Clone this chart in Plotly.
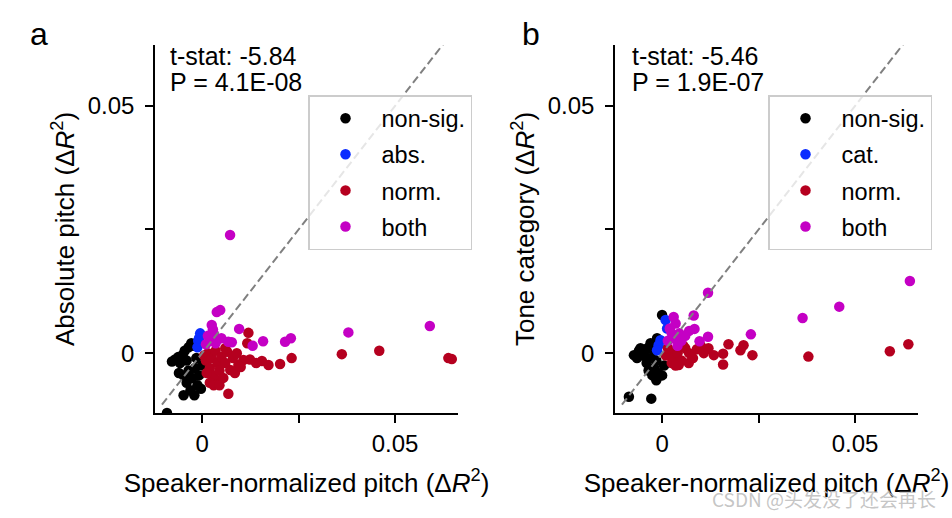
import plotly.graph_objects as go

# ---------------- data ----------------
categories = ["non-sig.", "abs.", "norm.", "both"]
categories_b = ["non-sig.", "cat.", "norm.", "both"]
colors = ["#000000", "#0a2bff", "#b5001f", "#c400c4"]

# Panel a : x = speaker-normalized pitch dR2, y = absolute pitch dR2
a_nonsig_x = [-0.0091, -0.0078, -0.0070, -0.0062, -0.0057, -0.0050, -0.0045, -0.0040, -0.0035, -0.0028,
              -0.0022, -0.0048, -0.0040, -0.0035, -0.0030, -0.0048, -0.0025, -0.0018, -0.0012, -0.0003,
              -0.0008, -0.0015, 0.0000, -0.0060, -0.0020]
a_nonsig_y = [-0.0121, -0.0017, -0.0013, -0.0008, -0.0020, -0.0003, 0.0005, -0.0015, 0.0012, 0.0020,
              0.0015, -0.0045, -0.0060, -0.0035, -0.0075, -0.0085, -0.0050, -0.0030, -0.0065, -0.0072,
              -0.0045, -0.0010, -0.0025, -0.0040, -0.0085]
a_abs_x = [-0.0005, -0.0010, -0.0012, -0.0008]
a_abs_y = [0.0040, 0.0025, 0.0012, 0.0030]
a_norm_x = [0.0120, 0.0117, 0.0232, 0.0202, 0.0172, 0.0155, 0.0124, 0.0107, 0.0094, 0.0073,
            0.0068, 0.0038, 0.0362, 0.0459, 0.0638, 0.0647, 0.0005, 0.0010, 0.0015, 0.0020,
            0.0025, 0.0030, 0.0035, 0.0040, 0.0045, 0.0050, 0.0055, 0.0060, 0.0065, 0.0080,
            0.0085, 0.0090, 0.0020, 0.0030, 0.0045, 0.0012, 0.0060, 0.0100, 0.0140]
a_norm_y = [0.0041, 0.0020, -0.0010, -0.0022, -0.0024, -0.0016, -0.0013, -0.0014, -0.0024, -0.0034,
            -0.0082, -0.0055, -0.0002, 0.0005, -0.0010, -0.0012, -0.0005, -0.0015, 0.0000, -0.0030,
            -0.0010, -0.0045, 0.0005, -0.0020, -0.0035, -0.0008, -0.0050, -0.0020, 0.0003, -0.0010,
            -0.0040, 0.0000, -0.0060, -0.0065, -0.0065, -0.0040, 0.0010, -0.0028, -0.0020]
a_both_x = [0.00725, 0.0047, 0.0038, 0.0025, 0.0096, 0.0158, 0.0131, 0.0215, 0.0230, 0.0379,
            0.0590, 0.0068, 0.0077, 0.0015, 0.0020, 0.0030, 0.0040, 0.0010, 0.0035, 0.0050, 0.0028]
a_both_y = [0.0239, 0.0087, 0.0083, 0.0057, 0.0049, 0.0024, 0.0015, 0.0023, 0.0030, 0.0042,
            0.0055, 0.0023, 0.0022, 0.0035, 0.0025, 0.0040, 0.0028, 0.0018, 0.0020, 0.0030, 0.0048]

# Panel b : x = speaker-normalized pitch dR2, y = tone category dR2
b_nonsig_x = [0.0000, -0.0086, -0.0028, -0.0013, -0.0073, -0.0056, -0.0038, -0.0065, -0.0050, -0.0040,
              -0.0030, -0.0020, -0.0025, -0.0010, -0.0035, -0.0015, 0.0005, -0.0045, -0.0020, -0.0060,
              -0.0030, 0.0000, -0.0015]
b_nonsig_y = [0.0077, -0.0088, -0.0092, 0.0030, -0.0004, 0.0010, 0.0010, -0.0010, -0.0005, -0.0020,
              -0.0010, -0.0030, -0.0045, -0.0040, -0.0035, -0.0015, -0.0025, 0.0005, 0.0005, 0.0005,
              0.0020, -0.0045, -0.0055]
b_cat_x = [0.0009, 0.0013, -0.0004, -0.0009, -0.0013]
b_cat_y = [0.0067, 0.0050, 0.0026, 0.0016, 0.0006]
b_norm_x = [0.0638, 0.0590, 0.0379, 0.0234, 0.0211, 0.0203, 0.0172, 0.0158, 0.0158, 0.0134,
            0.0108, 0.0069, 0.0043, 0.0010, 0.0020, 0.0030, 0.0040, 0.0050, 0.0060, 0.0070,
            0.0080, 0.0090, 0.0025, 0.0015, 0.0055, 0.0100, 0.0120, 0.0035]
b_norm_y = [0.0018, 0.0004, -0.0007, -0.0004, 0.0016, 0.0006, 0.0018, -0.0001, -0.0023, -0.0004,
            0.0000, -0.0020, -0.0024, -0.0005, 0.0005, -0.0010, 0.0000, -0.0015, 0.0010, 0.0000,
            -0.0010, 0.0008, -0.0020, 0.0010, 0.0015, 0.0015, 0.0010, -0.0025]
b_both_x = [0.0642, 0.0119, 0.0459, 0.0364, 0.0082, 0.0084, 0.0230, 0.0119, 0.0097, 0.0030,
            0.0020, 0.0035, 0.0045, 0.0030, 0.0015, 0.0050, 0.0060, 0.0040, 0.0070, 0.0025]
b_both_y = [0.0146, 0.0122, 0.0094, 0.0071, 0.0076, 0.0049, 0.0038, 0.0033, 0.0024, 0.0073,
            0.0050, 0.0060, 0.0040, 0.0030, 0.0025, 0.0025, 0.0035, 0.0015, 0.0045, 0.0040]

diag = [-0.0104, 0.0700]

tick_vals = [0, 0.025, 0.05]
tick_text = ["0", "", "0.05"]
stats_a = ["t-stat: -5.84", "P = 4.1E-08"]
stats_b = ["t-stat: -5.46", "P = 1.9E-07"]

FONT = "Liberation Sans, Arial, sans-serif"

fig = go.Figure()

panel_a = [(a_nonsig_x, a_nonsig_y), (a_abs_x, a_abs_y), (a_norm_x, a_norm_y), (a_both_x, a_both_y)]
panel_b = [(b_nonsig_x, b_nonsig_y), (b_cat_x, b_cat_y), (b_norm_x, b_norm_y), (b_both_x, b_both_y)]

for i, (xs, ys) in enumerate(panel_a):
    fig.add_trace(go.Scatter(x=xs, y=ys, mode="markers", name=categories[i],
                             marker=dict(color=colors[i], size=10.5, line=dict(width=0)),
                             xaxis="x", yaxis="y", legend="legend", legendgroup="a%d" % i))
fig.add_trace(go.Scatter(x=diag, y=diag, mode="lines", showlegend=False,
                         line=dict(color="#808080", width=2, dash="8px,4px"), xaxis="x", yaxis="y"))

for i, (xs, ys) in enumerate(panel_b):
    fig.add_trace(go.Scatter(x=xs, y=ys, mode="markers", name=categories_b[i],
                             marker=dict(color=colors[i], size=10.5, line=dict(width=0)),
                             xaxis="x2", yaxis="y2", legend="legend2", legendgroup="b%d" % i))
fig.add_trace(go.Scatter(x=diag, y=diag, mode="lines", showlegend=False,
                         line=dict(color="#808080", width=2, dash="8px,4px"), xaxis="x2", yaxis="y2"))

W, H = 952, 518
xr = [-0.0122, 0.0663]
yr = [-0.0121, 0.0623]
ydom = [(H - 413) / H, (H - 45) / H]

axis_common = dict(showline=True, linecolor="black", linewidth=1.5, ticks="outside", ticklen=8,
                   tickwidth=1.5, tickcolor="black", showgrid=False, zeroline=False,
                   tickvals=tick_vals, ticktext=tick_text, automargin=False,
                   tickfont=dict(family=FONT, size=24, color="black"))

TITLE_FONT = dict(family=FONT, size=26, color="black")
xtitle = dict(text="Speaker-normalized pitch (Δ<i>R</i><sup>2</sup>)", font=TITLE_FONT, standoff=18)

legend_common = dict(y=(H - 95) / H, xanchor="left", yanchor="top",
                     bgcolor="rgba(255,255,255,0.8)", bordercolor="#cccccc", borderwidth=1.5,
                     font=dict(family=FONT, size=23.5, color="black"), itemwidth=62,
                     tracegroupgap=2.5, traceorder="grouped")

fig.update_layout(
    width=W, height=H, margin=dict(l=0, r=0, t=0, b=0),
    plot_bgcolor="white", paper_bgcolor="white",
    font=dict(family=FONT, size=24, color="black"),
    xaxis=dict(domain=[155 / W, 458 / W], range=xr, anchor="y", title=xtitle, **axis_common),
    yaxis=dict(domain=ydom, range=yr, anchor="x",
               title=dict(text="Absolute pitch (Δ<i>R</i><sup>2</sup>)", font=TITLE_FONT, standoff=6),
               ticklabelstandoff=6, **axis_common),
    xaxis2=dict(domain=[615 / W, 918 / W], range=xr, anchor="y2", title=xtitle, **axis_common),
    yaxis2=dict(domain=ydom, range=yr, anchor="x2",
                title=dict(text="Tone category (Δ<i>R</i><sup>2</sup>)", font=TITLE_FONT, standoff=6),
                ticklabelstandoff=6, **axis_common),
    legend=dict(x=308 / W, **legend_common),
    legend2=dict(x=768 / W, **legend_common),
)

STAT_FONT = dict(family=FONT, size=25, color="black")
annotations = [
    dict(text="a", x=28 / W, y=(H - 34) / H, xanchor="left", yanchor="middle",
         font=dict(family=FONT, size=32, color="black")),
    dict(text="b", x=520 / W, y=(H - 34) / H, xanchor="left", yanchor="middle",
         font=dict(family=FONT, size=32, color="black")),
    dict(text=stats_a[0], x=168 / W, y=(H - 56) / H, xanchor="left", yanchor="middle", font=STAT_FONT),
    dict(text=stats_a[1], x=168 / W, y=(H - 82) / H, xanchor="left", yanchor="middle", font=STAT_FONT),
    dict(text=stats_b[0], x=630 / W, y=(H - 56) / H, xanchor="left", yanchor="middle", font=STAT_FONT),
    dict(text=stats_b[1], x=630 / W, y=(H - 82) / H, xanchor="left", yanchor="middle", font=STAT_FONT),
    dict(text="CSDN @头发没了还会再长", x=938 / W, y=(H - 498) / H, xanchor="right", yanchor="middle",
         font=dict(family="Noto Sans CJK SC", size=19, color="rgba(190,190,190,0.9)")),
]
for ann in annotations:
    ann.update(xref="paper", yref="paper", showarrow=False)
fig.update_layout(annotations=annotations)

fig.write_html("out.html")
